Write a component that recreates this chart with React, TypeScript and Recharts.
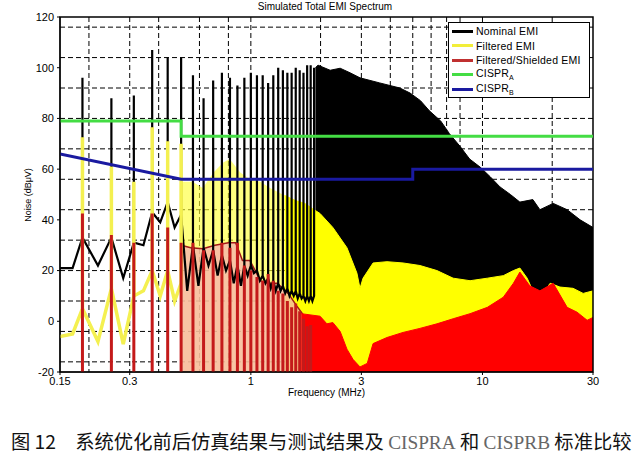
import React from "react";
import {
  ComposedChart,
  Line,
  Area,
  XAxis,
  YAxis,
  CartesianGrid,
  ReferenceArea,
} from "recharts";

// axis / grid
const freqTicks = [0.15, 0.3, 1, 3, 10, 30];
const levelTicks = [-20, 0, 20, 40, 60, 80, 100, 120];
const gridFreq = [0.2, 0.3, 0.4, 0.5, 0.6, 0.7, 0.8, 0.9, 1, 2, 3, 4, 5, 6, 7, 8, 9, 10, 20];
const gridLevel = [
  -16, -12, -8, -4, 0, 4, 8, 12, 16, 20, 24, 28, 32, 36, 40, 44, 48, 52, 56, 60,
  64, 68, 72, 76, 80, 84, 88, 92, 96, 100, 104, 108, 112, 116,
];

// switching harmonics (MHz) seen as separate spikes
const harmonicFreq = [
  0.1875, 0.25, 0.3125, 0.375, 0.4375, 0.5, 0.5625, 0.625, 0.6875, 0.75, 0.8125,
  0.875, 0.9375, 1.0, 1.0625, 1.125, 1.1875, 1.25, 1.3125, 1.375, 1.4375, 1.5,
  1.5625, 1.625, 1.6875, 1.75, 1.8125, 1.875,
];

// nominal EMI (dBuV)
const nominalPeak = [
  96, 88, 89, 107, 104, 104, 97, 88, 95, 98, 96, 93, 96, 98, 97, 97, 94, 97, 100,
  99, 98, 98, 100, 99, 98, 101, 101, 100,
];
const nominalBase = [
  33, 33, 31, 43, 47, 42, 30, 29, 28, 26, 24, 22, 22, 22, 20, 18, 17, 16, 15, 14,
  13, 12, 12, 11, 10, 10, 10, 10,
];
const nominalValley = [
  22, 17, 30, 39, 37, 12, 14, 22, 18, 20, 15, 14, 18, 19, 16, 15, 13, 12, 12, 11,
  10, 10, 9, 9, 8, 8, 8,
];
const nominalEnvFreq = [
  1.9, 1.95, 2.2, 2.43, 2.68, 2.96, 3.6, 4.4, 4.87, 5.4, 5.9, 6.6, 7.2, 8.0, 8.8,
  9.8, 10.8, 11.9, 13.2, 14.5, 16.5, 17.7, 20.2, 23.2, 26.4, 30,
];
const nominalEnvLevel = [
  100, 101, 99, 99.8, 98, 96, 94, 92, 90, 87, 83, 79, 74, 69, 64, 60.7, 57, 53, 50,
  47, 48, 44, 46.5, 44, 40, 37,
];

// filtered EMI
const filteredPeak = [72.6, 61, 55, 76.5, 71, 70];
const filteredBase = [5, 13, 10, 20, 20, 15];
const filteredValley = [-8, -9, 12, 10, 8];
const filteredMidFreq = [0.5, 0.52, 0.56, 0.62, 0.69, 0.76, 0.81, 0.9, 0.99, 1.1, 1.21, 1.4];
const filteredMidLevel = [55, 55, 55, 52.6, 58.7, 62.6, 64, 58.7, 56, 55, 52.6, 49.6];
const filteredHighFreq = [
  1.4, 1.55, 1.71, 1.84, 1.99, 2.26, 2.6, 2.87, 2.96, 3.05, 3.37, 3.87, 4.54, 5.37,
  6.36, 7.47, 8.84, 10.5, 12.3, 13.6, 14.5, 15.6, 16.5, 17.7, 19.6, 21.6, 24.6, 27.2, 30,
];
const filteredHighLevel = [
  49.6, 47.7, 46.5, 44.5, 42.5, 37, 29, 19, 13, 17, 23, 23.5, 23, 22, 20, 17, 16, 17,
  18, 20, 21, 17, 12, 9.5, 15, 13.5, 13, 11, 12,
];

// filtered / shielded EMI
const shieldedPeak = [
  42.5, 34, 31, 42.5, 37, 31, 31, 28, 28, 31, 29, 31, 22, 20, 17.5, 16, 18.6, 16,
  12, 11, 8, 5.5, 7, 4, 1, -2, -1.5,
];
const shieldedMidFreq = [0.5, 0.55, 0.62, 0.7, 0.8, 0.86, 0.92, 0.99, 1.1, 1.18, 1.3, 1.45, 1.58, 1.7, 1.85];
const shieldedMidLevel = [30, 29, 28.6, 30, 31, 31, 24, 24, 16, 15, 15, 11, 6, 2, 0];
const shieldedEnvFreq = [
  1.65, 1.99, 2.13, 2.26, 2.43, 2.6, 2.76, 2.96, 3.18, 3.37, 3.87, 4.54, 5.37, 6.36,
  7.47, 8.84, 10.5, 12.3, 13.6, 14.5, 16.0, 17.7, 20.2, 23.2, 25.6, 28.3, 30,
];
const shieldedEnvLevel = [
  3, 2, -1, -0.5, -4, -11, -15, -18, -16.6, -8.8, -6.4, -4.4, -2.8, -1, 1, 3, 5.5,
  9.5, 15, 19.4, 14, 12, 15, 5.5, 3.6, 0.4, 1.5,
];

// limits
const cisprAFreq = [0.15, 0.5, 0.5, 30];
const cisprALevel = [79, 79, 73, 73];
const cisprBFreq = [0.15, 0.5, 5, 5, 30];
const cisprBLevel = [66, 56, 56, 60, 60];

type Pt = { f: number; v: number };

const pairs = (fs: number[], vs: number[]): Pt[] => fs.map((f, i) => ({ f, v: vs[i] }));

function spikes(
  freqs: number[],
  peaks: number[],
  bases: number[] | number,
  valleys: number[],
  lead: Pt[]
): Pt[] {
  const out: Pt[] = [...lead];
  freqs.forEach((f, i) => {
    const b = Array.isArray(bases) ? bases[i] : bases;
    out.push({ f, v: b }, { f, v: peaks[i] }, { f, v: b });
    if (i < valleys.length && i + 1 < freqs.length) {
      out.push({ f: (f + freqs[i + 1]) / 2, v: valleys[i] });
    }
  });
  return out;
}

const nominalSpikes = spikes(harmonicFreq, nominalPeak, nominalBase, nominalValley, [
  { f: 0.15, v: 21 },
  { f: 0.17, v: 21 },
]);
const filteredSpikes = spikes(
  harmonicFreq.slice(0, filteredPeak.length),
  filteredPeak,
  filteredBase,
  filteredValley,
  [
    { f: 0.15, v: -6 },
    { f: 0.17, v: -5 },
  ]
);
const shieldedSpikes = spikes(harmonicFreq.slice(0, shieldedPeak.length), shieldedPeak, -25, [], []);

const legendItems = [
  { label: "Nominal EMI", color: "#000000" },
  { label: "Filtered EMI", color: "#f2ee3a" },
  { label: "Filtered/Shielded EMI", color: "#c03030" },
  { label: "CISPR", sub: "A", color: "#44dd44" },
  { label: "CISPR", sub: "B", color: "#1a1aa0" },
];

const font = "'Liberation Sans', Arial, sans-serif";

function EmiLegend() {
  return (
    <div
      style={{
        position: "absolute",
        left: 448,
        top: 22,
        width: 142,
        height: 76,
        background: "#fff",
        border: "1px solid #000",
        boxSizing: "border-box",
        fontFamily: font,
        fontSize: 10.5,
        letterSpacing: 0.2,
      }}
    >
      {legendItems.map((it, i) => (
        <div
          key={i}
          style={{ position: "absolute", left: 3, top: 1 + i * 14.5, height: 14, display: "flex", alignItems: "center" }}
        >
          <div style={{ width: 21, height: 3, background: it.color, marginRight: 3 }} />
          <span style={{ whiteSpace: "nowrap" }}>
            {it.label}
            {it.sub && <sub style={{ fontSize: 7 }}>{it.sub}</sub>}
          </span>
        </div>
      ))}
    </div>
  );
}

export default function App() {
  return (
    <div style={{ position: "absolute", left: 0, top: 0, width: 640, height: 461, background: "#fff" }}>
      <div
        style={{
          position: "absolute",
          left: 0,
          width: 650,
          top: 1,
          textAlign: "center",
          fontFamily: font,
          fontSize: 10,
        }}
      >
        Simulated Total EMI Spectrum
      </div>
      <ComposedChart width={640} height={400} margin={{ top: 17, right: 47, bottom: 0, left: 0 }}>
        <CartesianGrid
          verticalValues={gridFreq}
          horizontalValues={gridLevel}
          stroke="#000"
          strokeDasharray="5 3"
          strokeWidth={1}
        />
        <XAxis
          dataKey="f"
          type="number"
          scale="log"
          domain={[0.15, 30]}
          allowDataOverflow
          ticks={freqTicks}
          height={28}
          tickSize={3}
          tickMargin={2}
          stroke="#000"
          tick={{ fill: "#000", fontSize: 11, fontFamily: font }}
          label={{ value: "Frequency (MHz)", position: "insideBottom", offset: 4, fontSize: 10, fill: "#000", fontFamily: font }}
        />
        <YAxis
          dataKey="v"
          type="number"
          domain={[-20, 120]}
          allowDataOverflow
          ticks={levelTicks}
          width={60}
          tickSize={3}
          tickMargin={3}
          stroke="#000"
          tick={{ fill: "#000", fontSize: 11, fontFamily: font }}
        />
        <Area
          data={pairs(nominalEnvFreq, nominalEnvLevel)}
          dataKey="v"
          type="linear"
          baseValue="dataMin"
          stroke="#000"
          strokeWidth={1}
          fill="#000"
          fillOpacity={1}
          isAnimationActive={false}
        />
        <Line
          data={nominalSpikes}
          dataKey="v"
          type="linear"
          stroke="#000"
          strokeWidth={2.2}
          dot={false}
          isAnimationActive={false}
        />
        <Area
          data={pairs(filteredMidFreq, filteredMidLevel)}
          dataKey="v"
          type="linear"
          baseValue="dataMin"
          stroke="none"
          fill="#ffff30"
          fillOpacity={0.62}
          isAnimationActive={false}
        />
        <Area
          data={pairs(filteredHighFreq, filteredHighLevel)}
          dataKey="v"
          type="linear"
          baseValue="dataMin"
          stroke="#ffff00"
          fill="#ffff00"
          fillOpacity={1}
          isAnimationActive={false}
        />
        <Line
          data={filteredSpikes}
          dataKey="v"
          type="linear"
          stroke="#f4f050"
          strokeWidth={3.5}
          dot={false}
          isAnimationActive={false}
        />
        <Area
          data={pairs(shieldedMidFreq, shieldedMidLevel)}
          dataKey="v"
          type="linear"
          baseValue="dataMin"
          stroke="#a01818"
          strokeWidth={1.5}
          fill="#f5b0b0"
          fillOpacity={0.75}
          isAnimationActive={false}
        />
        <Line
          data={shieldedSpikes}
          dataKey="v"
          type="linear"
          stroke="#c41a1a"
          strokeWidth={3}
          dot={false}
          isAnimationActive={false}
        />
        <Area
          data={pairs(shieldedEnvFreq, shieldedEnvLevel)}
          dataKey="v"
          type="linear"
          baseValue="dataMin"
          stroke="#ff0000"
          fill="#ff0000"
          fillOpacity={1}
          isAnimationActive={false}
        />
        <Line
          data={pairs(cisprAFreq, cisprALevel)}
          dataKey="v"
          type="linear"
          stroke="#44dd44"
          strokeWidth={3}
          dot={false}
          isAnimationActive={false}
        />
        <Line
          data={pairs(cisprBFreq, cisprBLevel)}
          dataKey="v"
          type="linear"
          stroke="#1a1aa0"
          strokeWidth={3}
          dot={false}
          isAnimationActive={false}
        />
        <ReferenceArea x1={0.15} x2={30} y1={-20} y2={120} fill="none" stroke="#000" strokeWidth={1.5} ifOverflow="visible" />
      </ComposedChart>
      <div
        style={{
          position: "absolute",
          left: 28,
          top: 195,
          transform: "translate(-50%, -50%) rotate(-90deg)",
          fontFamily: font,
          fontSize: 9,
          whiteSpace: "nowrap",
        }}
      >
        Noise (dBμV)
      </div>
      <EmiLegend />
      <div
        style={{
          position: "absolute",
          left: 11,
          top: 430,
          fontFamily: "'Noto Sans CJK SC', sans-serif",
          fontSize: 19.3,
          lineHeight: "22px",
          color: "#111",
          whiteSpace: "nowrap",
        }}
      >
        图 12　系统优化前后仿真结果与测试结果及{" "}
        <span style={{ fontFamily: "'Liberation Serif', serif", color: "#666" }}>CISPRA</span> 和{" "}
        <span style={{ fontFamily: "'Liberation Serif', serif", color: "#666" }}>CISPRB</span> 标准比较
      </div>
    </div>
  );
}
